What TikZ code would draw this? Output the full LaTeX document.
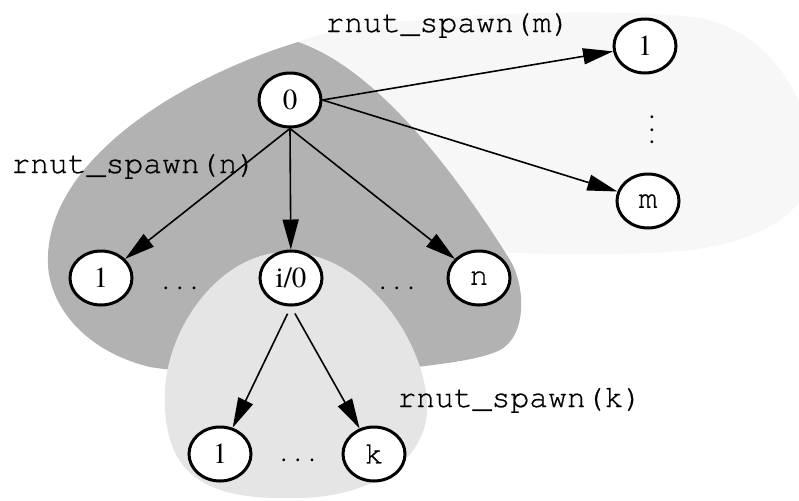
\documentclass[tikz,border=0pt]{standalone}
\usepackage{fontspec}
\setmainfont{TeX Gyre Termes}
\setmonofont[FakeBold=0.6]{TeX Gyre Cursor}
\usetikzlibrary{arrows.meta,shapes.geometric}

\definecolor{outerfill}{gray}{0.97}
\definecolor{spawnfill}{gray}{0.70}
\definecolor{innerfill}{gray}{0.90}

\newcommand{\spreaddots}{.\kern3.8pt.\kern3.8pt.}

\tikzset{
  task/.style={ellipse, draw, line width=1.5pt, fill=white, minimum width=31pt,
    minimum height=27pt, inner sep=0pt, font=\fontsize{14.5}{16}\selectfont},
  tttask/.style={task, font=\ttfamily\fontsize{15.7}{18}\selectfont},
  spawn/.style={-{Triangle[length=15pt,width=8pt]}, line width=0.8pt},
  calllabel/.style={anchor=base west, inner sep=0pt, font=\ttfamily\fontsize{15.7}{18}\selectfont},
  gap/.style={inner sep=0pt, font=\fontsize{13}{15}\selectfont}
}

\begin{document}
\begin{tikzpicture}[x=0.5pt,y=-0.5pt]
  \clip (0,0) rectangle (799,500);

  %regions
  %rnut_spawn(m)
  \fill[outerfill] (298,42) .. controls (360,15) and (600,5) .. (700,18)
    .. controls (760,30) and (800,80) .. (815,150)
    .. controls (820,210) and (760,250) .. (650,253)
    .. controls (580,255) and (530,254) .. (505,252)
    -- (400,130) -- (320,50) -- cycle;
  %rnut_spawn(n)
  \fill[spawnfill] (298,42) .. controls (380,70) and (460,180) .. (510,260)
    .. controls (525,284) and (528,335) .. (500,350)
    .. controls (480,360) and (440,364) .. (417,367)
    .. controls (300,380) and (200,375) .. (150,367)
    .. controls (80,350) and (45,300) .. (48,255)
    .. controls (52,160) and (175,80) .. (298,42) -- cycle;
  %rnut_spawn(k)
  \fill[innerfill] (290,252) .. controls (360,255) and (420,330) .. (427,400)
    .. controls (432,460) and (370,500) .. (290,498)
    .. controls (200,500) and (163,470) .. (165,395)
    .. controls (165,330) and (220,250) .. (290,252) -- cycle;

  %tasks
  \node[task] (n0) at (290,100) {0};
  \node[task] (a1) at (101,278) {1};
  \node[task] (ai) at (291,278) {i/0};
  \node[tttask] (an) at (479,278) {n};
  \node[task] (b1) at (220,454) {1};
  \node[tttask] (bk) at (374,454) {k};
  \node[task] (c1) at (645,46) {1};
  \node[tttask] (cm) at (648,201) {m};

  %gaps
  \node[gap, anchor=base] (a-gap1) at (180,289) {\spreaddots};
  \node[gap, anchor=base] (a-gap2) at (397,289) {\spreaddots};
  \node[gap, anchor=base] (b-gap) at (298,461) {\spreaddots};
  \node[gap, rotate=90] (c-gap) at (652,130) {.\kern3pt.\kern3pt.};

  %spawns
  \draw[spawn] (n0.south) -- (a1);
  \draw[spawn] (n0.south) -- (ai);
  \draw[spawn] (n0.south) -- (an);
  \draw[spawn] (n0.east) -- (c1);
  \draw[spawn] (n0.east) -- (cm);
  \draw[spawn, shorten <=4pt] (ai.south) -- (b1);
  \draw[spawn, shorten <=4pt] (ai.south) -- (bk);

  %labels
  \node[calllabel] (call-m) at (325,32) {rnut\_spawn(m)};
  \node[calllabel] (call-n) at (11,173) {rnut\_spawn(n)};
  \node[calllabel] (call-k) at (397,407) {rnut\_spawn(k)};
\end{tikzpicture}
\end{document}
